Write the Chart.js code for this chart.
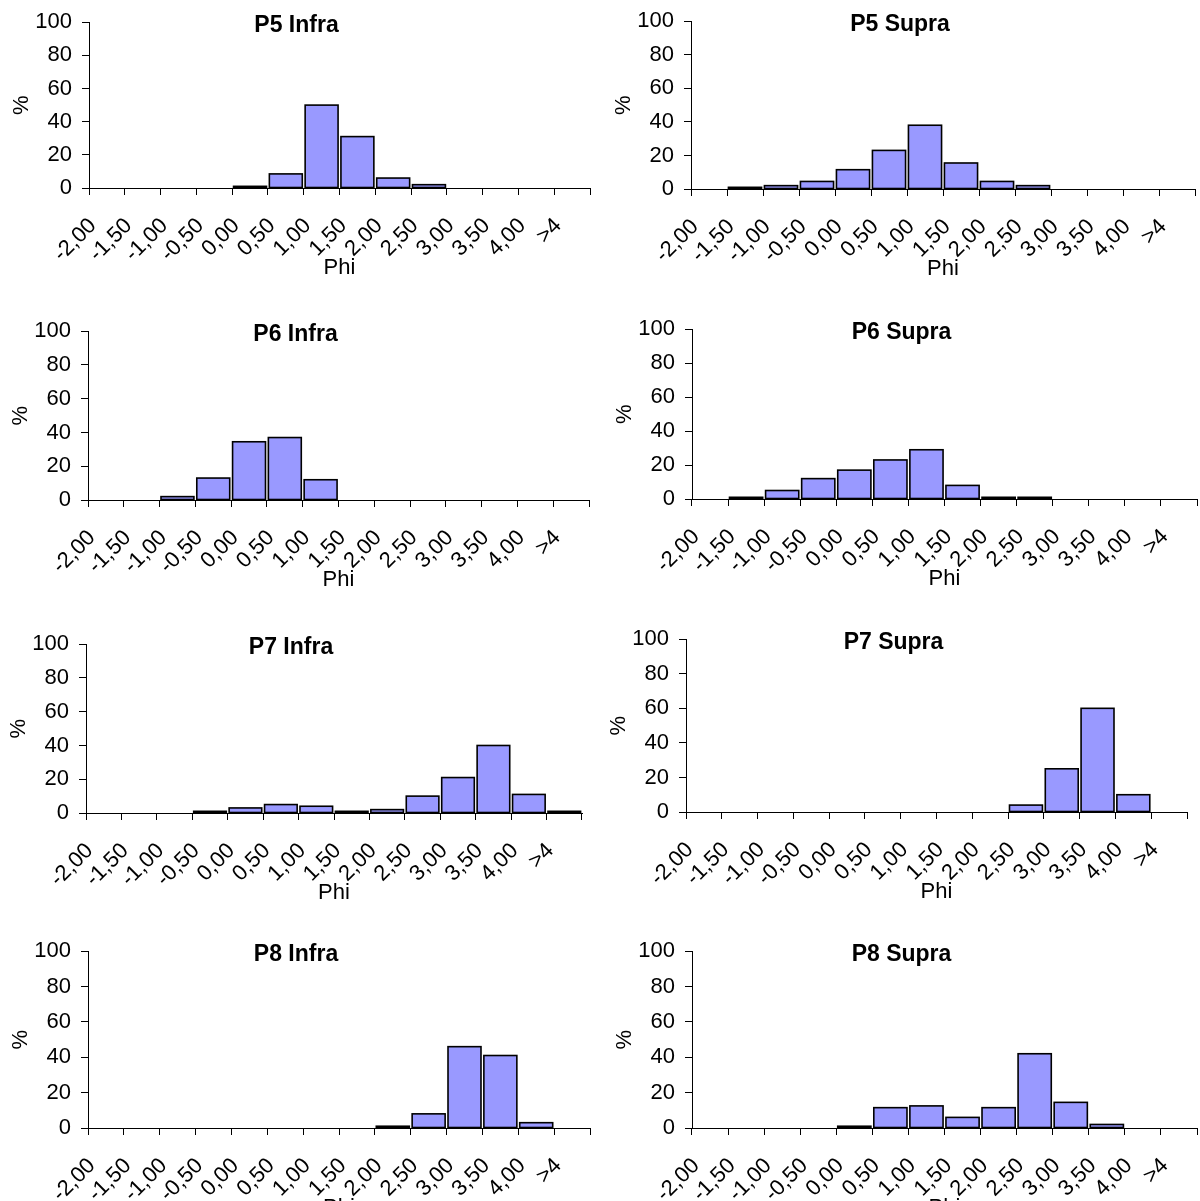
<!DOCTYPE html>
<html><head><meta charset="utf-8">
<script src="https://cdn.jsdelivr.net/npm/chart.js@4.4.1/dist/chart.umd.min.js"></script>
<style>
html,body{margin:0;padding:0;overflow:hidden;background:#fff;width:1200px;height:1201px;}
#wrap{position:relative;width:1200px;height:1201px;overflow:hidden;background:#fff;}
#wrap canvas{position:absolute;}
</style></head><body><div id="wrap"></div>
<script>
// ---- data ----
const categories = ['-2,00','-1,50','-1,00','-0,50','0,00','0,50','1,00','1,50','2,00','2,50','3,00','3,50','4,00','>4'];
const yMin = 0, yMax = 100, yStep = 20;
const titles = ['P5 Infra','P5 Supra','P6 Infra','P6 Supra','P7 Infra','P7 Supra','P8 Infra','P8 Supra'];
const p5Infra = [0,0,0,0,1,8.5,50,31,6,2,0,0,0,0];
const p5Supra = [0,1,2,4.5,11.5,23,38,15.5,4.5,2,0,0,0,0];
const p6Infra = [0,0,2,13,34.5,37,12,0,0,0,0,0,0,0];
const p6Supra = [0,1,5,12,17,23,29,8,1,1,0,0,0,0];
const p7Infra = [0,0,0,1,3,5,4,1,2,10,21,40,11,1];
const p7Supra = [0,0,0,0,0,0,0,0,0,4,25,60,10,0];
const p8Infra = [0,0,0,0,0,0,0,0,1,8,46,41,3,0];
const p8Supra = [0,0,0,0,1,11.5,12.5,6,11.5,42,14.5,2,0,0];
const xTitle = 'Phi', yTitle = '%';
const series = [p5Infra,p5Supra,p6Infra,p6Supra,p7Infra,p7Supra,p8Infra,p8Supra];

// ---- layout (panel frames) ----
const frames = [
  {col:0,   axisX:89,  right:590,  top:19,  bottom:188},
  {col:600, axisX:691, right:1195, top:18,  bottom:189},
  {col:0,   axisX:88,  right:589,  top:328, bottom:500},
  {col:600, axisX:692, right:1197, top:326, bottom:499},
  {col:0,   axisX:86,  right:582,  top:641, bottom:813},
  {col:600, axisX:686, right:1187, top:636, bottom:812},
  {col:0,   axisX:88,  right:590,  top:948, bottom:1128},
  {col:600, axisX:692, right:1197, top:948, bottom:1128}
];
const FONT = "'Liberation Sans', Arial, sans-serif";
const Y_W = 86, PAD_T = 20, PAD_R = 5, PAD_B = 5, X_H = 90;

// Excel-style outline: stroke centred on each bar's edge (bar geometry from Chart.js elements)
const outlinePlugin = {
  id: 'excelOutline',
  afterDatasetsDraw(chart) {
    const ctx = chart.ctx;
    const meta = chart.getDatasetMeta(0);
    const vals = chart.data.datasets[0].data;
    ctx.save();
    ctx.strokeStyle = '#000';
    ctx.lineWidth = 1.6;
    meta.data.forEach((bar, j) => {
      if (!vals[j]) return;
      const p = bar.getProps(['x', 'y', 'base', 'width'], true);
      ctx.strokeRect(p.x - p.width / 2, p.y, p.width, p.base - p.y);
    });
    ctx.restore();
  }
};

const wrap = document.getElementById('wrap');
titles.forEach((t, i) => {
  const f = frames[i];
  const cv = document.createElement('canvas');
  const w = f.right - f.col + PAD_R;
  const h = f.bottom - f.top + PAD_T + X_H + PAD_B;
  cv.width = w; cv.height = h;
  cv.style.left = f.col + 'px';
  cv.style.top = (f.top - PAD_T) + 'px';
  cv.style.width = w + 'px'; cv.style.height = h + 'px';
  wrap.appendChild(cv);
  new Chart(cv, {
    type: 'bar',
    data: {
      labels: categories,
      datasets: [{
        data: series[i],
        backgroundColor: '#9999FF',
        borderWidth: 0,
        barPercentage: 0.92,
        categoryPercentage: 1.0
      }]
    },
    plugins: [outlinePlugin],
    options: {
      responsive: false,
      animation: false,
      devicePixelRatio: 1,
      layout: {padding: {left: f.axisX - Y_W - f.col, right: PAD_R, top: PAD_T, bottom: PAD_B}},
      plugins: {
        legend: {display: false},
        tooltip: {enabled: false},
        title: {
          display: true, text: t, color: '#000',
          font: {family: FONT, size: 23, weight: 'bold', lineHeight: 1.2},
          padding: {top: -10.8, bottom: -16.8}
        }
      },
      scales: {
        x: {
          type: 'category',
          offset: true,
          grid: {display: true, offset: true, drawOnChartArea: false, drawTicks: true, tickLength: 7, color: '#000', lineWidth: 1},
          border: {display: true, color: '#000', width: 1},
          ticks: {autoSkip: false, minRotation: 45, maxRotation: 45, padding: 18, labelOffset: -14,
                  color: '#000', font: {family: FONT, size: 22}},
          title: {display: true, text: xTitle, color: '#000', font: {family: FONT, size: 22, lineHeight: 1.2}, padding: {top: 0, bottom: -3}},
          afterFit: (s) => { s.height = X_H; s.paddingLeft = 0; s.paddingRight = 0; }
        },
        y: {
          min: yMin, max: yMax,
          grid: {display: true, drawOnChartArea: false, drawTicks: true, tickLength: 7, color: '#000', lineWidth: 1},
          border: {display: true, color: '#000', width: 1},
          ticks: {stepSize: yStep, padding: 10, color: '#000', font: {family: FONT, size: 22}},
          title: {display: true, text: yTitle, color: '#000', font: {family: FONT, size: 22, lineHeight: 1.2}, padding: {top: 6, bottom: 0}},
          afterFit: (s) => { s.width = Y_W; }
        }
      }
    }
  });
});
</script>
</body></html>
